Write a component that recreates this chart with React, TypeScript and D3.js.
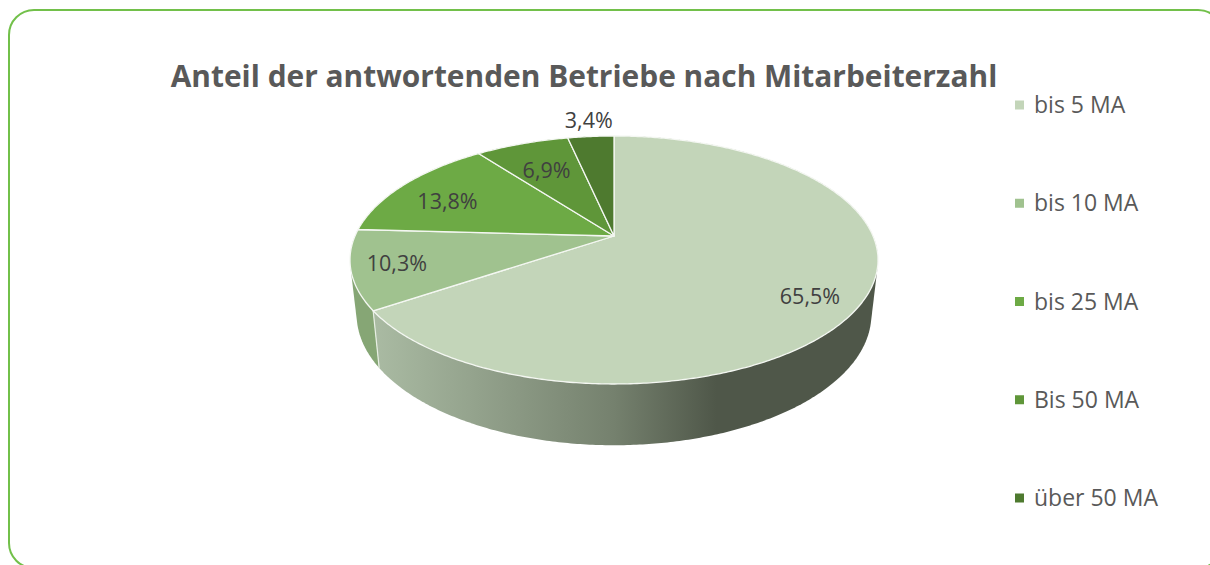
import React from "react";
import * as d3 from "d3";

const chartTitle = "Anteil der antwortenden Betriebe nach Mitarbeiterzahl";
const categories = ["bis 5 MA", "bis 10 MA", "bis 25 MA", "Bis 50 MA", "über 50 MA"];
const shares = [65.5, 10.3, 13.8, 6.9, 3.4];
const shareLabels = ["65,5%", "10,3%", "13,8%", "6,9%", "3,4%"];
const topColors = ["#c3d5b9", "#a0c28f", "#6daa45", "#5f9639", "#4e7a2f"];
const sideColors = ["url(#bigSide)", "#86a675", "#5a8a3a", "#4e7a30", "#3f6426"];

// perspective model of the pie disc
const W = 1210, H = 565;
const CX = 614, K = 0.1935, RX = 259;
const TOP = { cy: 236, s: 119.35, scale: 1 };
const BOTTOM = { cy: 289, s: 126, scale: 0.975 };
type Disc = typeof TOP;

const project = (a: number, d: Disc, f = 1): [number, number] => {
  const u = Math.sin(a) * f, v = Math.cos(a) * f;
  const w = 1 + K * v;
  return [CX + (d.scale * RX * u) / w, d.cy - (d.s * v) / w];
};
const sample = (a0: number, a1: number, d: Disc) => {
  const n = Math.max(2, Math.ceil(Math.abs(a1 - a0) / 0.01));
  return d3.range(n + 1).map((i) => project(a0 + ((a1 - a0) * i) / n, d));
};
const line = d3.line();

const pie = d3.pie<number>().sort(null).startAngle(0).endAngle(2 * Math.PI);
const arcs = pie(shares);
const labelFraction = [0.78, 0.825, 0.79, 0.7, 1.16];
const labelNudge = [[4, 13], [-2, 0], [2, 7], [0, 2], [1, -3]];

const legendY = d3.scalePoint<string>().domain(categories).range([105, 498]);

export default function App() {
  const font = "'Open Sans', sans-serif";
  const split = arcs[0].endAngle;
  return (
    <svg width={W} height={H} style={{ position: "absolute", left: 0, top: 0, background: "#fff" }}>
      <defs>
        <linearGradient id="bigSide" x1="0" x2="1" y1="0" y2="0">
          <stop offset="0" stopColor="#aabba3" />
          <stop offset="0.476" stopColor="#75816e" />
          <stop offset="0.68" stopColor="#4f5749" />
          <stop offset="1" stopColor="#4f5749" />
        </linearGradient>
      </defs>
      <rect x={9} y={10} width={1214} height={558} rx={25} ry={25} fill="#fff" stroke="#72c04a" strokeWidth={2} />
      <text x={584} y={87} textAnchor="middle" fontFamily={font} fontWeight={700} fontSize={29.9} fill="#595959">
        {chartTitle}
      </text>

      {arcs.map((d, i) => (
        <path
          key={"side" + i}
          d={(line(d3.polygonHull([...sample(d.startAngle, d.endAngle, TOP), ...sample(d.startAngle, d.endAngle, BOTTOM)]) as [number, number][]) as string) + "Z"}
          fill={sideColors[i]}
        />
      ))}
      <path d={line([project(split, TOP), project(split, BOTTOM)]) as string} stroke="#e8efe4" strokeWidth={1.2} fill="none" />

      {arcs.map((d, i) => (
        <path
          key={"top" + i}
          d={(line([project(0, TOP, 0), ...sample(d.startAngle, d.endAngle, TOP)]) as string) + "Z"}
          fill={topColors[i]}
          stroke="#f4f7f2"
          strokeWidth={1.3}
          strokeLinejoin="round"
        />
      ))}

      {arcs.map((d, i) => {
        const [x, y] = project((d.startAngle + d.endAngle) / 2, TOP, labelFraction[i]);
        return (
          <text key={"lab" + i} x={x + labelNudge[i][0]} y={y + labelNudge[i][1]} dy="0.35em" textAnchor="middle" fontFamily={font} fontSize={21.5} fill="#404040">
            {shareLabels[i]}
          </text>
        );
      })}

      {categories.map((c, i) => {
        const y = legendY(c) as number;
        return (
          <g key={c}>
            <rect x={1015} y={y - 4.5} width={9} height={9} fill={topColors[i]} />
            <text x={1034} y={y} dy="0.35em" fontFamily={font} fontSize={23} fill="#595959">
              {c}
            </text>
          </g>
        );
      })}
    </svg>
  );
}
